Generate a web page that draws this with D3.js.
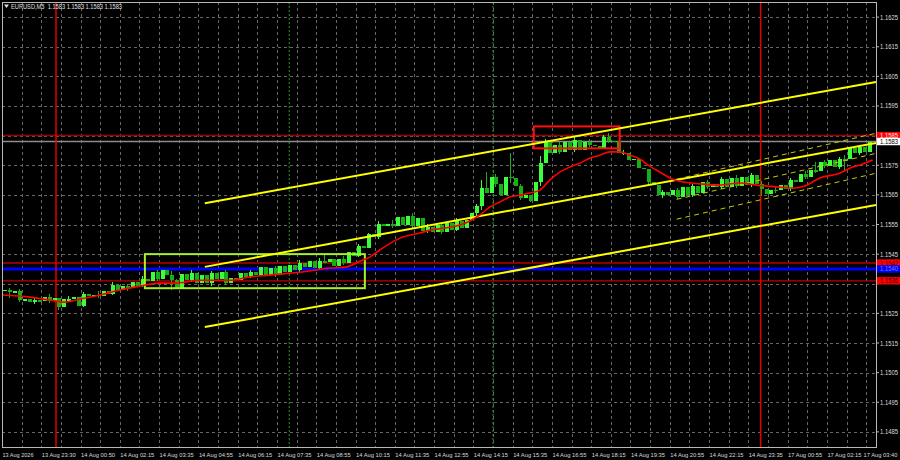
<!DOCTYPE html>
<html>
<head>
<meta charset="utf-8">
<script src="https://cdn.jsdelivr.net/npm/d3@7"></script>
<style>
html, body { margin: 0; padding: 0; background: #000; }
svg { display: block; }
text { font-family: "Liberation Sans", Arial, sans-serif; }
</style>
</head>
<body>
<div id="chart"></div>
<script>
// EURUSD M5
var symbolTitle = "EURUSD,M5  1.1583 1.1583 1.1583 1.1583";

// closes, one candle per 2 M5 slots
var closes = [
  1.15329, 1.15321, 1.15324, 1.15295, 1.15298, 1.15290, 1.15294, 1.15293, 1.15306, 1.15293,
  1.15302, 1.15270, 1.15297, 1.15298, 1.15304, 1.15276, 1.15314, 1.15307, 1.15313, 1.15310,
  1.15325, 1.15317, 1.15347, 1.15329, 1.15341, 1.15334, 1.15355, 1.15344, 1.15367, 1.15360,
  1.15389, 1.15365, 1.15395, 1.15379, 1.15362, 1.15334, 1.15382, 1.15361, 1.15387, 1.15353,
  1.15379, 1.15351, 1.15385, 1.15366, 1.15389, 1.15354, 1.15371, 1.15364, 1.15387, 1.15374,
  1.15389, 1.15378, 1.15405, 1.15379, 1.15402, 1.15381, 1.15409, 1.15391, 1.15414, 1.15397,
  1.15420, 1.15405, 1.15428, 1.15403, 1.15426, 1.15425, 1.15432, 1.15411, 1.15434, 1.15421,
  1.15457, 1.15445, 1.15476, 1.15471, 1.15517, 1.15509, 1.15553, 1.15546, 1.15552, 1.15546,
  1.15575, 1.15550, 1.15580, 1.15545, 1.15571, 1.15529, 1.15543, 1.15523, 1.15549, 1.15525,
  1.15554, 1.15533, 1.15563, 1.15538, 1.15564, 1.15590, 1.15612, 1.15672, 1.15655, 1.15712,
  1.15686, 1.15651, 1.15712, 1.15707, 1.15679, 1.15641, 1.15651, 1.15631, 1.15694, 1.15758,
  1.15828, 1.15793, 1.15820, 1.15795, 1.15827, 1.15803, 1.15834, 1.15803, 1.15829, 1.15819,
  1.15815, 1.15807, 1.15847, 1.15832, 1.15831, 1.15793, 1.15793, 1.15769, 1.15772, 1.15742,
  1.15737, 1.15692, 1.15685, 1.15649, 1.15659, 1.15651, 1.15665, 1.15644, 1.15677, 1.15650,
  1.15680, 1.15655, 1.15692, 1.15677, 1.15686, 1.15678, 1.15702, 1.15678, 1.15708, 1.15681,
  1.15710, 1.15685, 1.15716, 1.15687, 1.15669, 1.15654, 1.15668, 1.15665, 1.15684, 1.15671,
  1.15700, 1.15692, 1.15722, 1.15710, 1.15733, 1.15729, 1.15760, 1.15749, 1.15768, 1.15745,
  1.15771, 1.15770, 1.15807, 1.15791, 1.15811, 1.15796, 1.15830
];
var firstOpen = 1.15325;

// [candle, high, low] where the wick sticks out
var wicks = [
  [1, 1.15336, 1.15302], [3, 1.15332, 1.15288], [6, 1.15305, 1.15282], [9, 1.15314, 1.15285],
  [11, 1.15288, 1.15261], [13, 1.15310, 1.15288], [16, 1.15322, 1.15270], [19, 1.15325, 1.15302],
  [22, 1.15356, 1.15312], [25, 1.15350, 1.15326], [28, 1.15375, 1.15339], [31, 1.15398, 1.15358],
  [34, 1.15392, 1.15329], [35, 1.15366, 1.15332], [38, 1.15398, 1.15355], [42, 1.15392, 1.15344],
  [45, 1.15396, 1.15345], [50, 1.15398, 1.15368], [55, 1.15410, 1.15374], [60, 1.15429, 1.15391],
  [64, 1.15436, 1.15398], [65, 1.15447, 1.15420], [69, 1.15442, 1.15413], [72, 1.15485, 1.15440],
  [74, 1.15521, 1.15478], [76, 1.15562, 1.15502], [79, 1.15564, 1.15538], [83, 1.15588, 1.15538],
  [86, 1.15552, 1.15520], [89, 1.15556, 1.15517], [92, 1.15572, 1.15528], [96, 1.15620, 1.15575],
  [97, 1.15700, 1.15600], [98, 1.15727, 1.15660], [100, 1.15722, 1.15676], [103, 1.15790, 1.15690],
  [105, 1.15688, 1.15632], [107, 1.15650, 1.15625], [109, 1.15780, 1.15680], [110, 1.15840, 1.15760],
  [113, 1.15830, 1.15788], [116, 1.15845, 1.15796], [119, 1.15840, 1.15810], [122, 1.15852, 1.15815],
  [123, 1.15858, 1.15825], [126, 1.15802, 1.15784], [131, 1.15715, 1.15680], [134, 1.15667, 1.15640],
  [137, 1.15673, 1.15636], [140, 1.15688, 1.15644], [143, 1.15700, 1.15670], [146, 1.15710, 1.15671],
  [149, 1.15716, 1.15674], [152, 1.15724, 1.15678], [154, 1.15697, 1.15645], [157, 1.15676, 1.15657],
  [160, 1.15708, 1.15664], [163, 1.15731, 1.15702], [165, 1.15760, 1.15725], [167, 1.15768, 1.15741],
  [170, 1.15779, 1.15738], [171, 1.15785, 1.15730], [174, 1.15820, 1.15785]
];

// moving average, [M5 bar, price]
var maPoints = [
  [0, 1.15312], [11.4, 1.15305], [19.5, 1.15295], [25.7, 1.15288], [31.8, 1.15298], [39.9, 1.15312],
  [48, 1.15329], [56.2, 1.15342], [64.3, 1.15352], [70.4, 1.15352], [80.6, 1.15362], [92.8, 1.15362],
  [100.9, 1.15373], [109.1, 1.15379], [117.3, 1.15386], [121.3, 1.15389], [133.6, 1.15403], [139.7, 1.15406],
  [145.8, 1.15426], [149.8, 1.15440], [153.9, 1.15464], [162.1, 1.15504], [170.2, 1.15521], [174.3, 1.15531],
  [180.4, 1.15538], [186.5, 1.15548], [190.6, 1.15562], [194.6, 1.15582], [198.7, 1.15609], [202.8, 1.15626],
  [206.8, 1.15643], [210.9, 1.15649], [215, 1.15656], [219.1, 1.15666], [223.1, 1.15700], [227.2, 1.15727],
  [231.3, 1.15744], [235.3, 1.15757], [239.4, 1.15774], [243.5, 1.15784], [247.6, 1.15795], [251.6, 1.15795],
  [255.7, 1.15784], [259.8, 1.15771], [263.8, 1.15747], [267.9, 1.15727], [274, 1.15700], [284.2, 1.15687],
  [292.3, 1.15683], [300.5, 1.15690], [307.4, 1.15683], [316.8, 1.15676], [322.9, 1.15673], [327, 1.15680],
  [333.1, 1.15707], [341.2, 1.15723], [345.3, 1.15740], [349.3, 1.15751], [354.6, 1.15768]
];

var priceTicks = [1.1625, 1.1615, 1.1605, 1.1595, 1.1585, 1.1575, 1.1565, 1.1555, 1.1545,
                  1.1535, 1.1525, 1.1515, 1.1505, 1.1495, 1.1485];
var timeLabels = ["13 Aug 2026", "13 Aug 23:30", "14 Aug 00:50", "14 Aug 02:15", "14 Aug 03:35",
  "14 Aug 04:55", "14 Aug 06:15", "14 Aug 07:35", "14 Aug 08:55", "14 Aug 10:15", "14 Aug 11:35",
  "14 Aug 12:55", "14 Aug 14:15", "14 Aug 15:35", "14 Aug 16:55", "14 Aug 18:15", "14 Aug 19:35",
  "14 Aug 20:55", "14 Aug 22:15", "14 Aug 23:35", "17 Aug 00:55", "17 Aug 02:15", "17 Aug 03:40"];

var levelPrices = [1.1585, 1.1542, 1.1540, 1.1536];
var bidPrice = 1.1583;
var dayLines = [22, 309];
var sessionLines = [117, 200];

// channel lines: [[bar, price], [bar, price]]
var channelMain = [
  [[82.6, 1.15622], [356, 1.16031]],
  [[82.6, 1.15407], [356, 1.15825]],
  [[82.6, 1.15204], [356, 1.15616]]
];
var channelSmall = [
  [[274.8, 1.15703], [356, 1.15858]],
  [[274.8, 1.15635], [356, 1.15790]],
  [[274.8, 1.15568], [356, 1.15723]]
];
// rectangles: [bar from, bar to, price top, price bottom]
var greenBox = [58.2, 147.8, 1.15450, 1.15335];
var redBox = [216.6, 251.6, 1.15881, 1.15807];

var W = 900, H = 460;
var pLeft = 2, pRight = 876, pTop = 2, pBottom = 447;

var x = d3.scaleLinear().domain([0, 356]).range([pLeft, pRight]);
var y = d3.scaleLinear().domain([1.14799, 1.16301]).range([pBottom, pTop]);

var svg = d3.select("#chart").append("svg")
  .attr("width", W).attr("height", H);

svg.append("rect").attr("width", W).attr("height", H).attr("fill", "#000");

// grid
var grid = svg.append("g").attr("stroke", "#666").attr("stroke-dasharray", "3,3")
  .attr("shape-rendering", "crispEdges");
grid.selectAll(".hg").data(priceTicks).enter().append("line")
  .attr("x1", pLeft).attr("x2", pRight)
  .attr("y1", function (d) { return Math.round(y(d)) + 0.5; })
  .attr("y2", function (d) { return Math.round(y(d)) + 0.5; });
grid.selectAll(".vg").data(d3.range(8, 356, 8)).enter().append("line")
  .attr("y1", pTop).attr("y2", pBottom)
  .attr("x1", function (d) { return Math.round(x(d)) + 0.5; })
  .attr("x2", function (d) { return Math.round(x(d)) + 0.5; });

// horizontal levels
var levelStyle = {
  "1.1585": {c: "#9a0000", w: 1.5},
  "1.1542": {c: "#8a0000", w: 2},
  "1.154": {c: "#0000ff", w: 3},
  "1.1536": {c: "#c00000", w: 1.2}
};
svg.selectAll(".lvl").data(levelPrices).enter().append("line")
  .attr("x1", pLeft).attr("x2", pRight)
  .attr("y1", function (d) { return y(d); }).attr("y2", function (d) { return y(d); })
  .attr("stroke", function (d) { return levelStyle[String(d)].c; })
  .attr("stroke-width", function (d) { return levelStyle[String(d)].w; });
svg.append("line").attr("x1", pLeft).attr("x2", pRight)
  .attr("y1", y(bidPrice)).attr("y2", y(bidPrice))
  .attr("stroke", "#8c8c8c").attr("stroke-width", 1.5);

// vertical markers
svg.selectAll(".day").data(dayLines).enter().append("line")
  .attr("x1", function (d) { return x(d); }).attr("x2", function (d) { return x(d); })
  .attr("y1", pTop).attr("y2", pBottom)
  .attr("stroke", "#e00000").attr("stroke-width", 1.5);
svg.selectAll(".ses").data(sessionLines).enter().append("line")
  .attr("x1", function (d) { return x(d); }).attr("x2", function (d) { return x(d); })
  .attr("y1", pTop).attr("y2", pBottom)
  .attr("stroke", "#1f9a1f").attr("stroke-width", 1).attr("stroke-dasharray", "2,2");

// candles
var candles = closes.map(function (c, k) {
  var o = k === 0 ? firstOpen : closes[k - 1];
  return {k: k, o: o, c: c, h: Math.max(o, c), l: Math.min(o, c)};
});
wicks.forEach(function (w) {
  candles[w[0]].h = Math.max(candles[w[0]].h, w[1]);
  candles[w[0]].l = Math.min(candles[w[0]].l, w[2]);
});
function candleColor(d) { return d.c >= d.o ? "#3cff3c" : "#14b014"; }

var cg = svg.append("g").attr("shape-rendering", "crispEdges");
cg.selectAll(".wick").data(candles).enter().append("line")
  .attr("x1", function (d) { return Math.round(x(2 * d.k + 1)) + 0.5; })
  .attr("x2", function (d) { return Math.round(x(2 * d.k + 1)) + 0.5; })
  .attr("y1", function (d) { return y(d.h); })
  .attr("y2", function (d) { return y(d.l); })
  .attr("stroke", candleColor);
cg.selectAll(".body").data(candles).enter().append("rect")
  .attr("x", function (d) { return Math.round(x(2 * d.k + 1)) - 1.5; })
  .attr("width", 4)
  .attr("y", function (d) { return y(Math.max(d.o, d.c)); })
  .attr("height", function (d) { return Math.max(1.5, y(Math.min(d.o, d.c)) - y(Math.max(d.o, d.c))); })
  .attr("fill", candleColor);

// boxes
function drawBox(b, color) {
  svg.append("rect")
    .attr("x", x(b[0])).attr("y", y(b[2]))
    .attr("width", x(b[1]) - x(b[0])).attr("height", y(b[3]) - y(b[2]))
    .attr("fill", "none").attr("stroke", color).attr("stroke-width", 2);
}
drawBox(greenBox, "#a8f02a");
drawBox(redBox, "#ff1010");

// channels
var seg = d3.line().x(function (d) { return x(d[0]); }).y(function (d) { return y(d[1]); });
svg.selectAll(".chm").data(channelMain).enter().append("path")
  .attr("d", seg).attr("stroke", "#ffff00").attr("stroke-width", 2).attr("fill", "none");
svg.selectAll(".chs").data(channelSmall).enter().append("path")
  .attr("d", seg).attr("stroke", "#c8c800").attr("stroke-width", 1)
  .attr("stroke-dasharray", "5,4").attr("fill", "none");

// moving average
svg.append("path").datum(maPoints)
  .attr("d", d3.line().curve(d3.curveMonotoneX)
    .x(function (d) { return x(d[0]); }).y(function (d) { return y(d[1]); }))
  .attr("stroke", "#ff0000").attr("stroke-width", 1.6).attr("fill", "none");

// frame and axes
svg.append("rect").attr("x", pLeft + 0.5).attr("y", pTop + 0.5)
  .attr("width", pRight - pLeft).attr("height", pBottom - pTop)
  .attr("fill", "none").attr("stroke", "#b8b8b8").attr("shape-rendering", "crispEdges");

var tagPrices = levelPrices.concat([bidPrice]);
var ax = svg.append("g").attr("fill", "#dadada").attr("font-size", "7px");
ax.selectAll(".pt")
  .data(priceTicks.filter(function (p) {
    return !tagPrices.some(function (t) { return Math.abs(y(t) - y(p)) < 6; });
  }))
  .enter().append("text")
  .attr("x", pRight + 4).attr("y", function (d) { return y(d) + 2.5; })
  .attr("textLength", 18).attr("lengthAdjust", "spacingAndGlyphs")
  .text(function (d) { return d.toFixed(4); });
svg.selectAll(".ptk").data(priceTicks).enter().append("line")
  .attr("x1", pRight).attr("x2", pRight + 3)
  .attr("y1", function (d) { return y(d); }).attr("y2", function (d) { return y(d); })
  .attr("stroke", "#b8b8b8");
ax.selectAll(".tt").data(timeLabels).enter().append("text")
  .attr("x", function (d, i) { return Math.min(x(16 * i) + 0.5, 863.5); })
  .attr("y", 456.5)
  .attr("font-size", "6px")
  .attr("textLength", function (d) { return d.length > 11 ? 34 : 31; })
  .attr("lengthAdjust", "spacingAndGlyphs")
  .text(function (d) { return d; });

// price tags on the axis
var tagStyle = [
  {p: levelPrices[0], bg: "#ff0000", fg: "#ffe8e8"},
  {p: levelPrices[1], bg: "#ff0000", fg: "#3a0000"},
  {p: levelPrices[2], bg: "#0000ff", fg: "#7a7aff"},
  {p: levelPrices[3], bg: "#ff0000", fg: "#3a0000"},
  {p: bidPrice, bg: "#ffffff", fg: "#000000"}
];
var tags = svg.selectAll(".tag").data(tagStyle).enter().append("g");
tags.append("rect")
  .attr("x", pRight + 1).attr("width", W - pRight - 1)
  .attr("y", function (d) { return y(d.p) - 3.7; }).attr("height", 7.4)
  .attr("fill", function (d) { return d.bg; });
tags.append("text")
  .attr("x", pRight + 4).attr("y", function (d) { return y(d.p) + 2.5; })
  .attr("font-size", "7px")
  .attr("textLength", 18).attr("lengthAdjust", "spacingAndGlyphs")
  .attr("fill", function (d) { return d.fg; })
  .text(function (d) { return d.p.toFixed(4); });

// title
svg.append("path").attr("d", "M4,4.5 L9,4.5 L6.5,8 Z").attr("fill", "#e0e0e0");
svg.append("text").attr("x", 11).attr("y", 9).attr("font-size", "7px")
  .attr("textLength", 111).attr("lengthAdjust", "spacingAndGlyphs")
  .attr("fill", "#e0e0e0").attr("xml:space", "preserve").text(symbolTitle);
</script>
</body>
</html>
